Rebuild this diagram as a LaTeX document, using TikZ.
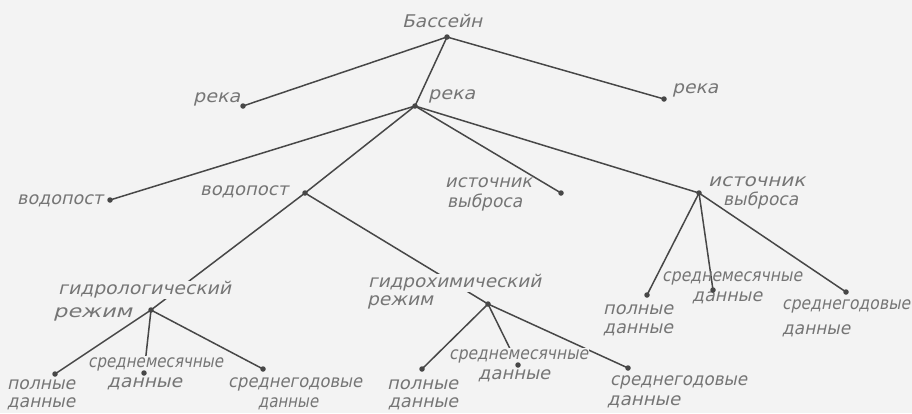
\documentclass[tikz,border=0pt]{standalone}
\usepackage{fontspec}
\usepackage{graphicx}
\newfontfamily\dfont[FakeSlant=0.22]{DejaVu Sans}
\newcommand{\fw}[2]{\resizebox{#1pt}{\height}{#2}}
\definecolor{bg}{HTML}{F3F3F3}
\definecolor{ln}{HTML}{474747}
\definecolor{tx}{HTML}{757575}
\begin{document}
\begin{tikzpicture}[x=1pt,y=-1pt,
  lbl/.style={font=\dfont\fontsize{17.5}{21}\selectfont, text=tx, inner sep=0pt, anchor=west},
  gap/.style={fill=bg, inner sep=1pt},
  dot/.style={circle, fill=ln, inner sep=0pt, minimum size=5.5pt},
  edge/.style={draw=ln, line width=1.5pt}]
\fill[bg] (0,0) rectangle (912,413);
\useasboundingbox (0,0) rectangle (912,413);
% coordinates of the points
\coordinate (B) at (447,37);
\coordinate (RL) at (243,106);
\coordinate (RM) at (415,106);
\coordinate (RR) at (664,99);
\coordinate (VL) at (110,200);
\coordinate (VM) at (305,193);
\coordinate (IM) at (561,193);
\coordinate (IR) at (699,193);
\coordinate (GL) at (151,310);
\coordinate (GH) at (488,304);
\coordinate (a1) at (55,374);
\coordinate (a2) at (144,373);
\coordinate (a3) at (263,369);
\coordinate (b1) at (422,369);
\coordinate (b2) at (518,365);
\coordinate (b3) at (628,368);
\coordinate (c1) at (647,295);
\coordinate (c2) at (713,290);
\coordinate (c3) at (846,292);
% connectors
\draw[edge] (B) -- (RL);
\draw[edge] (B) -- (RM);
\draw[edge] (B) -- (RR);
\draw[edge] (RM) -- (VL);
\draw[edge] (RM) -- (VM);
\draw[edge] (RM) -- (IM);
\draw[edge] (RM) -- (IR);
\draw[edge] (VM) -- (GL);
\draw[edge] (VM) -- (GH);
\draw[edge] (GL) -- (a1);
\draw[edge] (GL) -- (a2);
\draw[edge] (GL) -- (a3);
\draw[edge] (GH) -- (b1);
\draw[edge] (GH) -- (b2);
\draw[edge] (GH) -- (b3);
\draw[edge] (IR) -- (c1);
\draw[edge] (IR) -- (c2);
\draw[edge] (IR) -- (c3);
% labels
\node[lbl] (tB) at (402,21) {\fw{80}{Бассейн}};
\node[lbl] (tRL) at (193,99) {\fw{47}{река}};
\node[lbl] (tRM) at (428,96) {\fw{47}{река}};
\node[lbl] (tRR) at (672,90) {\fw{46}{река}};
\node[lbl] (tVL) at (17,201) {\fw{86}{водопост}};
\node[lbl] (tVM) at (200,192) {\fw{88}{водопост}};
\node[lbl] (tIM1) at (445,183) {\fw{87}{источник}};
\node[lbl] (tIM2) at (447,203) {\fw{75}{выброса}};
\node[lbl] (tIR1) at (708,182) {\fw{97}{источник}};
\node[lbl] (tIR2) at (723,201) {\fw{75}{выброса}};
\node[lbl,gap] (tGL1) at (57,290) {\fw{173}{гидрологический}};
\node[lbl] (tGL2) at (53,314) {\fw{79}{режим}};
\node[lbl,gap] (tGH1) at (367,283) {\fw{173}{гидрохимический}};
\node[lbl] (tGH2) at (367,302) {\fw{66}{режим}};
\node[lbl] (ta11) at (7,385) {\fw{68}{полные}};
\node[lbl] (ta12) at (7,404) {\fw{68}{данные}};
\node[lbl,gap] (ta21) at (87,364) {\fw{135}{среднемесячные}};
\node[lbl] (ta22) at (107,384) {\fw{75}{данные}};
\node[lbl] (ta31) at (228,384) {\fw{134}{среднегодовые}};
\node[lbl] (ta32) at (258,404) {\fw{60}{данные}};
\node[lbl] (tb11) at (387,385) {\fw{71}{полные}};
\node[lbl] (tb12) at (388,404) {\fw{70}{данные}};
\node[lbl,gap] (tb21) at (448,356) {\fw{139}{среднемесячные}};
\node[lbl] (tb22) at (478,376) {\fw{72}{данные}};
\node[lbl] (tb31) at (610,382) {\fw{137}{среднегодовые}};
\node[lbl] (tb32) at (607,402) {\fw{73}{данные}};
\node[lbl] (tc11) at (603,310) {\fw{70}{полные}};
\node[lbl] (tc12) at (603,330) {\fw{70}{данные}};
\node[lbl] (tc21) at (662,278) {\fw{140}{среднемесячные}};
\node[lbl] (tc22) at (692,298) {\fw{70}{данные}};
\node[lbl] (tc31) at (782,306) {\fw{128}{среднегодовые}};
\node[lbl] (tc32) at (782,331) {\fw{68}{данные}};
% dots
\foreach \p in {B,RL,RM,RR,VL,VM,IM,IR,GL,GH,a1,a2,a3,b1,b2,b3,c1,c2,c3}
  \node[dot] (d\p) at (\p) {};
\end{tikzpicture}
\end{document}
